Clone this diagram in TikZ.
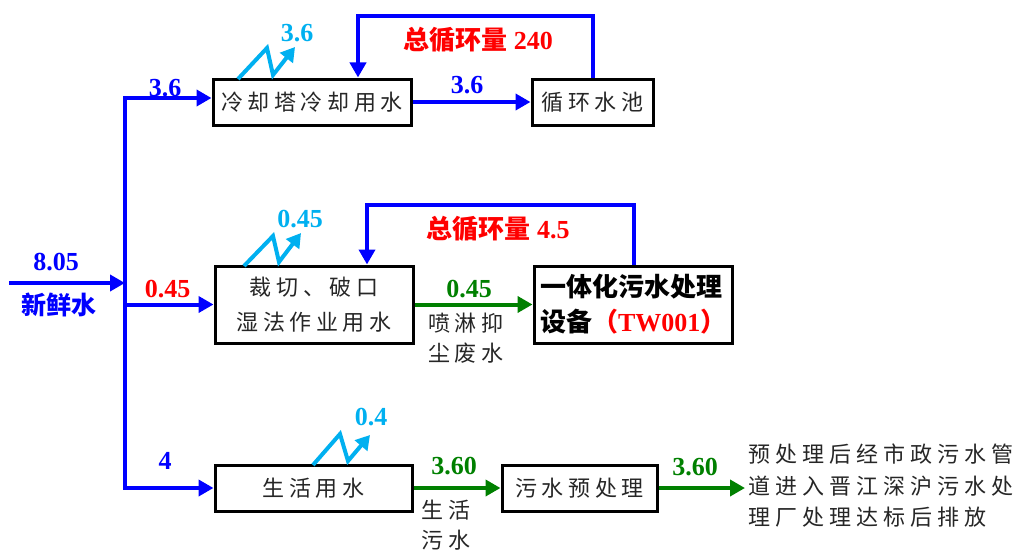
\documentclass[tikz,border=0pt]{standalone}
\usepackage{fontspec}
\usetikzlibrary{arrows.meta}
\setmainfont{Liberation Serif}
\newfontfamily\cjk{Noto Sans CJK SC}[LetterSpace=21]
\newfontfamily\cjkw{Noto Sans CJK SC}[LetterSpace=23]
\newfontfamily\cjkb{Noto Sans CJK SC}
\definecolor{fblue}{RGB}{0,0,255}
\definecolor{fcyan}{RGB}{0,176,240}
\definecolor{fred}{RGB}{255,0,0}
\definecolor{fgreen}{RGB}{0,128,0}
\definecolor{ftext}{RGB}{38,38,38}
\begin{document}
\begin{tikzpicture}[x=1pt,y=-1pt,
  box/.style={draw=black, line width=3pt, fill=white, inner sep=0pt, text=ftext,
              font=\cjk\fontsize{22}{35}\selectfont},
  cn/.style={text=ftext, inner sep=0pt, font=\cjk\fontsize{22}{30}\selectfont},
  num/.style={inner sep=0pt, font=\bfseries\fontsize{26}{26}\selectfont},
  flow/.style={draw=fblue, line width=4pt, -{Triangle[length=15pt,width=16pt]}},
  gflow/.style={draw=fgreen, line width=4pt, -{Triangle[length=15pt,width=16pt]}},
  loss/.style={draw=fcyan, line width=4pt, line join=miter, -{Triangle[length=14pt,width=16pt]}}
]
\useasboundingbox (0,0) rectangle (1017,551);

% boxes
\node[box, minimum width=198pt, minimum height=46pt] (b1) at (312,102) {冷却塔冷却用水};
\node[box, minimum width=121pt, minimum height=46pt] (b2) at (592.5,102) {循环水池};
\node[box, minimum width=198pt, minimum height=77pt, align=center] (b3) at (314,304.5) {裁切、破口\\湿法作业用水};
\node[box, minimum width=198pt, minimum height=77pt, align=left, text width=186pt, text=black,
      font=\bfseries\fontsize{26}{35}\selectfont] (b4) at (633,304.5)
      {{\cjkb 一体化污水处理}\\{\cjkb 设备}\textcolor{fred}{{\cjkb （}TW001{\cjkb ）}}};
\node[box, minimum width=197pt, minimum height=46pt] (b5) at (313.5,488) {生活用水};
\node[box, minimum width=155pt, minimum height=46pt] (b6) at (579.5,488) {污水预处理};

% trunk and fresh water
\coordinate (tk1) at (125,98);
\coordinate (tk2) at (125,488);
\coordinate (fw) at (9,283);
\draw[flow] (fw) -- (fw -| tk1);
\draw[flow] (tk2) -- (tk1) -- (b1.west |- tk1);
\draw[flow] (tk1) -- (tk2) -- (b5.west);
\draw[flow] (tk1 |- b3.west) -- (b3.west);

% top loop
\coordinate (t1) at (593,16);
\coordinate (t2) at (358,16);
\draw[flow] (b1.east) -- (b2.west);
\draw[flow] (b2.north -| t1) -- (t1) -- (t2) -- (b1.north -| t2);

% middle loop
\coordinate (m1) at (634,205);
\coordinate (m2) at (367,205);
\draw[flow] (b4.north -| m1) -- (m1) -- (m2) -- (b3.north -| m2);
\draw[gflow] (b3.east) -- (b4.west);

% bottom
\coordinate (out) at (745,488);
\draw[gflow] (b5.east) -- (b6.west);
\draw[gflow] (b6.east) -- (out);

% losses
\draw[loss] (238,79) -- (267,48) -- (273,75) -- (295,47);
\draw[loss] (244,266) -- (273,236) -- (279,262) -- (301,233);
\draw[loss] (313,465) -- (340,434) -- (348,461) -- (370,435);

% labels
\node[num, text=fblue] (l1) at (56,262) {8.05};
\node[inner sep=0pt, text=fblue, font=\cjkb\bfseries\fontsize{25}{25}\selectfont] (l2) at (59,305) {新鲜水};
\node[num, text=fblue] (l3) at (165,88) {3.6};
\node[num, text=fred] (l4) at (167.5,289) {0.45};
\node[num, text=fblue] (l5) at (165,461) {4};
\node[num, text=fcyan] (l6) at (297,33) {3.6};
\node[num, text=fcyan] (l7) at (300,219) {0.45};
\node[num, text=fcyan] (l8) at (371,417) {0.4};
\node[num, text=fblue] (l9) at (467,85) {3.6};
\node[num, text=fred] (l10) at (478,40) {{\cjkb 总循环量} 240};
\node[num, text=fred] (l11) at (498,229) {{\cjkb 总循环量} 4.5};
\node[num, text=fgreen] (l12) at (469,289) {0.45};
\node[num, text=fgreen] (l13) at (454,466) {3.60};
\node[num, text=fgreen] (l14) at (695,467) {3.60};
\node[cn, align=center] (l15) at (466,338) {喷淋抑\\尘废水};
\node[cn, align=center] (l16) at (446,525) {生活\\污水};
\node[cn, align=left, anchor=west, font=\cjkw\fontsize{22}{31.5}\selectfont] (l17) at (748,486)
  {预处理后经市政污水管\\道进入晋江深沪污水处\\理厂处理达标后排放};
\end{tikzpicture}
\end{document}
